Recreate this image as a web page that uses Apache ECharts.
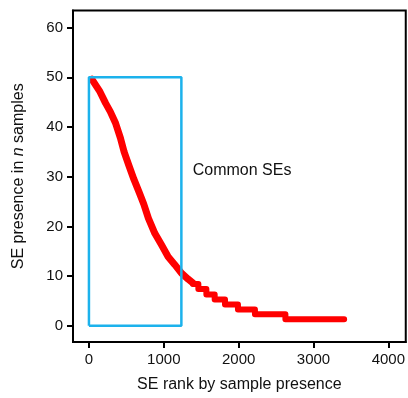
<!DOCTYPE html>
<html>
<head>
<meta charset="utf-8">
<script src="https://cdn.jsdelivr.net/npm/echarts@6/dist/echarts.min.js"></script>
<style>
  html, body { margin: 0; padding: 0; background: #fff; }
  #chart { width: 408px; height: 398px; }
</style>
</head>
<body>
<div id="chart"></div>
<script>
// 数据
const xTicks = [0, 1000, 2000, 3000, 4000];
const yTicks = [0, 10, 20, 30, 40, 50, 60];
// 上半段曲线 [rank, presence]
const curvePoints = [
  [40, 49.6], [147, 47.1], [222, 44.8], [285, 43.1], [355, 40.8], [420, 37.8],
  [470, 35.0], [535, 32.2], [600, 29.5], [670, 26.9], [732, 24.5], [795, 21.6],
  [880, 18.6], [969, 16.3], [1058, 13.9], [1147, 12.3], [1236, 10.6], [1324, 9.4],
  [1390, 8.6]
];
// 下半段阶梯：每一级的起始 rank 和高度
const stepStarts = [1390, 1462, 1569, 1680, 1818, 1991, 2218, 2625, 3410];
const stepValues = [8.4, 7.4, 6.3, 5.3, 4.3, 3.3, 2.3, 1.3, 1.3];
// 蓝色框
const boxPoints = [[0, 0], [0, 50], [1235, 50], [1235, 0], [0, 0]];
const boxLabel = 'Common SEs';
const boxLabelPos = [1387, 31.3];

const font = "'Liberation Sans', Arial, Helvetica, sans-serif";
const ink = '#111';

let myChart = echarts.init(document.getElementById('chart'));
let option = {
  animation: false,
  grid: {
    left: 73,
    top: 10.5,
    right: 1.5,
    bottom: 54,
    show: true,
    borderColor: '#000',
    borderWidth: 2
  },
  xAxis: {
    type: 'value',
    min: -213,
    max: 4233,
    name: 'SE rank by sample presence',
    nameLocation: 'middle',
    nameGap: 35,
    nameTextStyle: { color: ink, fontSize: 16, fontFamily: font },
    axisLine: { onZero: false, lineStyle: { color: '#000', width: 2 } },
    axisTick: { customValues: xTicks, length: 6, lineStyle: { color: '#000', width: 2 } },
    axisLabel: {
      customValues: xTicks, color: ink, fontSize: 15, fontFamily: font, margin: 10,
      formatter: v => String(v)
    },
    splitLine: { show: false }
  },
  yAxis: {
    type: 'value',
    min: -3.26,
    max: 63.44,
    name: 'SE presence in {i|n} samples',
    nameLocation: 'middle',
    nameGap: 46,
    nameTextStyle: {
      color: ink, fontSize: 16, fontFamily: font,
      rich: { i: { fontStyle: 'italic', fontSize: 16, fontFamily: font, color: ink } }
    },
    axisLine: { onZero: false, lineStyle: { color: '#000', width: 2 } },
    axisTick: { customValues: yTicks, length: 6, lineStyle: { color: '#000', width: 2 } },
    axisLabel: {
      customValues: yTicks, color: ink, fontSize: 15, fontFamily: font, margin: 10,
      formatter: v => String(v)
    },
    splitLine: { show: false }
  },
  series: [
    {
      name: 'curve',
      type: 'line',
      data: curvePoints,
      symbol: 'none',
      lineStyle: { color: '#ff0000', width: 7, cap: 'round', join: 'round' },
      z: 2
    },
    {
      name: 'steps',
      type: 'line',
      step: 'end',
      data: stepStarts.map((x, i) => [x, stepValues[i]]),
      symbol: 'none',
      lineStyle: { color: '#ff0000', width: 6, cap: 'round', join: 'round' },
      z: 2
    },
    {
      name: 'box',
      type: 'line',
      data: boxPoints,
      symbol: 'none',
      lineStyle: { color: '#1cb2ec', width: 2.5 },
      z: 3
    },
    {
      name: 'label',
      type: 'scatter',
      data: [boxLabelPos],
      symbolSize: 0,
      itemStyle: { opacity: 1 },
      label: {
        show: true,
        formatter: boxLabel,
        position: 'right',
        distance: 0,
        color: ink,
        fontSize: 16,
        fontFamily: font
      }
    }
  ]
};
myChart.setOption(option);
</script>
</body>
</html>
